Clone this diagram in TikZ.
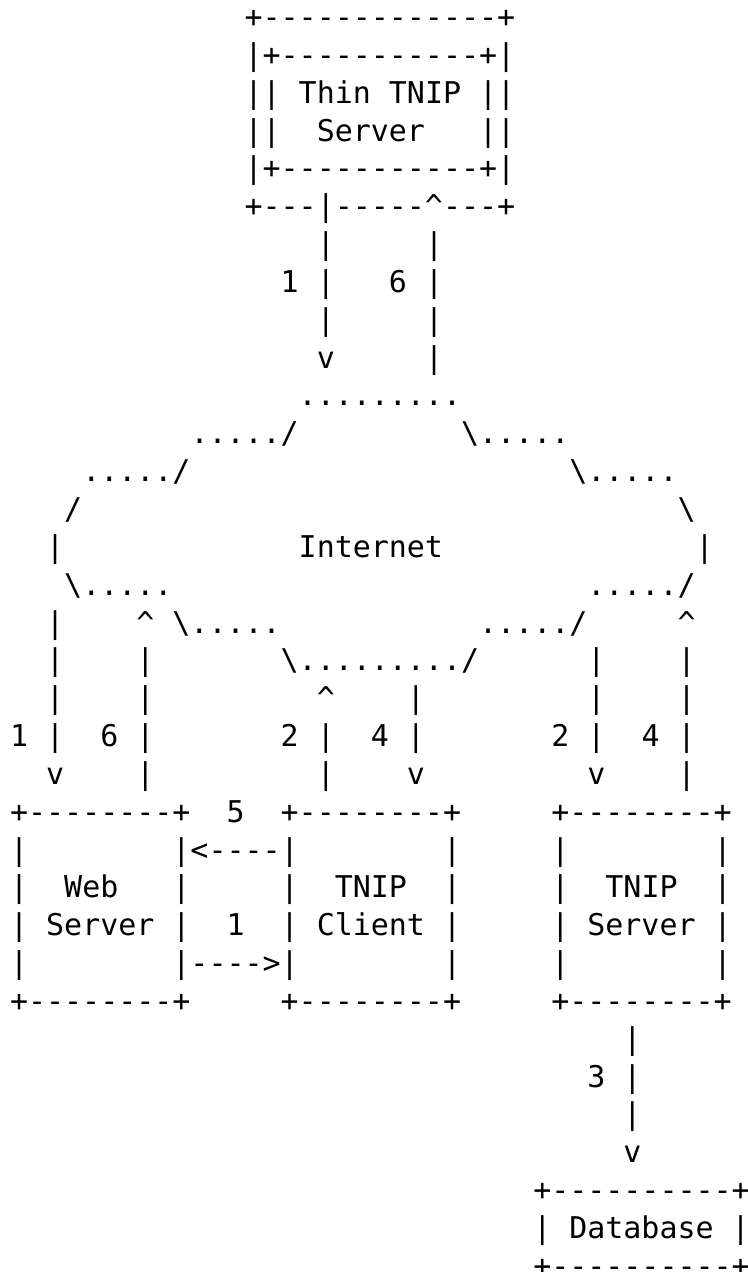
\documentclass[tikz,border=0pt]{standalone}
\usepackage{fontspec}
\setmonofont{DejaVu Sans Mono}
\frenchspacing
\newcommand\asciifont{\ttfamily\fontsize{14.98pt}{18pt}\selectfont}
\newcommand\BS{\textbackslash}
\newcommand\UP{\textasciicircum}
\tikzset{asc/.style={anchor=base west, inner sep=0pt, outer sep=0pt, font=\asciifont, text=black}}
% place text run at column #1, line #2
\newcommand\A[3]{\node[asc] (r#2c#1) at ({10.1+18.04*#1},{27.6+37.84*#2}) {#3};}
\begin{document}
\begin{tikzpicture}[x=0.5pt,y=-0.5pt]
\fill[white] (0,0) rectangle (748,1272);
\useasboundingbox (0,0) rectangle (748,1272);
% Thin TNIP server
\A{13}{0}{+-------------+}
\A{13}{1}{|+-----------+|}
\A{13}{2}{||}\A{16}{2}{Thin}\A{21}{2}{TNIP}\A{26}{2}{||}
\A{13}{3}{||}\A{17}{3}{Server}\A{26}{3}{||}
\A{13}{4}{|+-----------+|}
\A{13}{5}{+---|-----\UP---+}
\A{17}{6}{|}\A{23}{6}{|}
\A{15}{7}{1}\A{17}{7}{|}\A{21}{7}{6}\A{23}{7}{|}
\A{17}{8}{|}\A{23}{8}{|}
\A{17}{9}{v}\A{23}{9}{|}
% Internet cloud
\A{16}{10}{.........}
\A{10}{11}{...../}\A{25}{11}{\BS.....}
\A{4}{12}{...../}\A{31}{12}{\BS.....}
\A{3}{13}{/}\A{37}{13}{\BS}
\A{2}{14}{|}\A{16}{14}{Internet}\A{38}{14}{|}
\A{3}{15}{\BS.....}\A{32}{15}{...../}
\A{2}{16}{|}\A{7}{16}{\UP}\A{9}{16}{\BS.....}\A{26}{16}{...../}\A{37}{16}{\UP}
\A{2}{17}{|}\A{7}{17}{|}\A{15}{17}{\BS........./}\A{32}{17}{|}\A{37}{17}{|}
\A{2}{18}{|}\A{7}{18}{|}\A{17}{18}{\UP}\A{22}{18}{|}\A{32}{18}{|}\A{37}{18}{|}
\A{0}{19}{1}\A{2}{19}{|}\A{5}{19}{6}\A{7}{19}{|}\A{15}{19}{2}\A{17}{19}{|}\A{20}{19}{4}\A{22}{19}{|}\A{30}{19}{2}\A{32}{19}{|}\A{35}{19}{4}\A{37}{19}{|}
\A{2}{20}{v}\A{7}{20}{|}\A{17}{20}{|}\A{22}{20}{v}\A{32}{20}{v}\A{37}{20}{|}
% lower boxes
\A{0}{21}{+--------+}\A{12}{21}{5}\A{15}{21}{+--------+}\A{30}{21}{+--------+}
\A{0}{22}{|}\A{9}{22}{|<----|}\A{24}{22}{|}\A{30}{22}{|}\A{39}{22}{|}
\A{0}{23}{|}\A{3}{23}{Web}\A{9}{23}{|}\A{15}{23}{|}\A{18}{23}{TNIP}\A{24}{23}{|}\A{30}{23}{|}\A{33}{23}{TNIP}\A{39}{23}{|}
\A{0}{24}{|}\A{2}{24}{Server}\A{9}{24}{|}\A{12}{24}{1}\A{15}{24}{|}\A{17}{24}{Client}\A{24}{24}{|}\A{30}{24}{|}\A{32}{24}{Server}\A{39}{24}{|}
\A{0}{25}{|}\A{9}{25}{|---->|}\A{24}{25}{|}\A{30}{25}{|}\A{39}{25}{|}
\A{0}{26}{+--------+}\A{15}{26}{+--------+}\A{30}{26}{+--------+}
% database
\A{34}{27}{|}
\A{32}{28}{3}\A{34}{28}{|}
\A{34}{29}{|}
\A{34}{30}{v}
\A{29}{31}{+----------+}
\A{29}{32}{|}\A{31}{32}{Database}\A{40}{32}{|}
\A{29}{33}{+----------+}
\end{tikzpicture}
\end{document}
